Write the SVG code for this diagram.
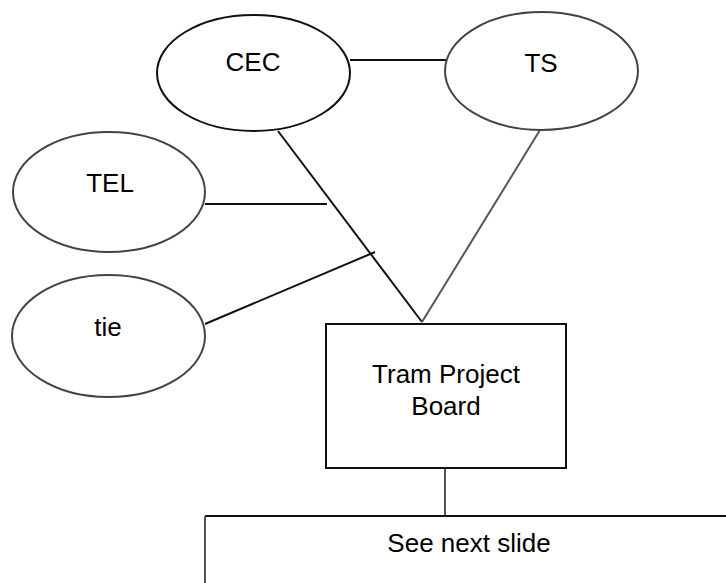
<svg xmlns="http://www.w3.org/2000/svg" width="726" height="583" viewBox="0 0 726 583">
<style>
.shape{fill:#fff;stroke:#111;stroke-width:2}
.soft{stroke:#444}
.line{fill:none;stroke:#111;stroke-width:2}
.grey{stroke:#555}
text{font-family:"Liberation Sans",Arial,sans-serif;font-size:26px;fill:#000;text-anchor:middle}
</style>
<rect width="726" height="583" fill="#fff"/>
<g id="connectors">
<line class="line" x1="350" y1="60" x2="447" y2="60"/>
<line class="line" x1="278" y1="131" x2="422" y2="322"/>
<line class="line grey" x1="540" y1="130" x2="422" y2="322"/>
<line class="line" x1="205" y1="204" x2="327" y2="204"/>
<line class="line" x1="205" y1="324" x2="375" y2="252"/>
<line class="line grey" x1="445" y1="468" x2="445" y2="516"/>
<line class="line" x1="205" y1="516" x2="726" y2="516"/>
<line class="line grey" x1="205" y1="516" x2="205" y2="583"/>
</g>
<g id="cec">
<ellipse class="shape" cx="253.5" cy="73" rx="96.5" ry="58"/>
<text x="253" y="71">CEC</text>
</g>
<g id="ts">
<ellipse class="shape soft" cx="541.5" cy="71" rx="96.5" ry="59"/>
<text x="541" y="72">TS</text>
</g>
<g id="tel">
<ellipse class="shape soft" cx="109" cy="192" rx="96" ry="60"/>
<text x="110" y="192">TEL</text>
</g>
<g id="tie">
<ellipse class="shape soft" cx="108.5" cy="336" rx="96.5" ry="61"/>
<text x="108" y="336">tie</text>
</g>
<g id="tram-project-board">
<rect class="shape" x="326" y="324" width="240" height="144"/>
<text x="446" y="383">Tram Project</text>
<text x="446" y="415">Board</text>
</g>
<g id="see-next-slide">
<text x="469" y="552">See next slide</text>
</g>
</svg>
